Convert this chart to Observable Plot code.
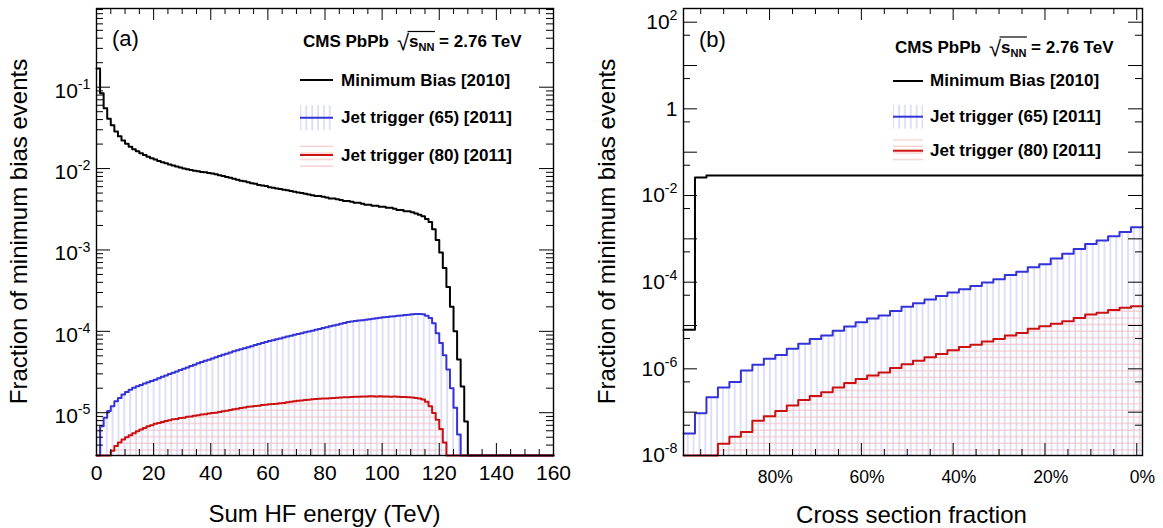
<!DOCTYPE html>
<html><head><meta charset="utf-8">
<script src="https://cdn.jsdelivr.net/npm/d3@7"></script>
<script src="https://cdn.jsdelivr.net/npm/@observablehq/plot@0.6"></script>
<style>
body{margin:0;background:#fff;}
#wrap{position:relative;width:1163px;height:528px;overflow:hidden;background:#fff;}
#wrap svg{position:absolute;top:0;}
</style></head><body>
<svg width="0" height="0" style="position:absolute;left:0;top:0">
<defs>
<pattern id="hatchBlue" patternUnits="userSpaceOnUse" width="5.87" height="8"><rect x="0.5" y="0" width="1.1" height="8" fill="#c6c6f6"/></pattern>
<pattern id="hatchRed" patternUnits="userSpaceOnUse" width="8" height="6.6"><rect x="0" y="0.6" width="8" height="1.1" fill="#f7c2c2"/></pattern>
</defs></svg>
<div id="wrap"></div>
<script>
// ---------------- data ----------------
const seriesNames = ["Minimum Bias [2010]", "Jet trigger (65) [2011]", "Jet trigger (80) [2011]"];

// Panel (a): Sum HF energy, bins of 1.25 TeV from 0 to 160 TeV (128 bins)
const hfBinWidth = 1.25;
const mbA = [
0.17,0.084,0.055,0.041,0.034,0.0285,0.025,0.0222,0.0202,0.0186,
0.0173,0.0163,0.0154,0.0147,0.014,0.0134,0.0129,0.0124,0.012,0.0116,
0.0112,0.0109,0.0106,0.0103,0.01,0.0098,0.0096,0.0094,0.0093,0.0091,
0.009,0.0088,0.0087,0.0085,0.0083,0.0081,0.0079,0.0077,0.0075,0.0073,
0.0071,0.007,0.0068,0.0066,0.0065,0.0063,0.0062,0.0061,0.0059,0.0058,
0.0057,0.0056,0.0055,0.0054,0.0053,0.0052,0.0051,0.005,0.0049,0.0048,
0.0047,0.0046,0.0046,0.0045,0.0044,0.0043,0.0043,0.0042,0.0041,0.004,
0.004,0.0039,0.0038,0.0038,0.0037,0.0036,0.0036,0.0035,0.0035,0.0034,
0.0034,0.0033,0.0033,0.0032,0.0031,0.0031,0.003,0.003,0.0029,0.0028,
0.0027,0.0026,0.0024,0.0022,0.0018,0.00133,0.00093,0.0006,0.00035,0.0002,
0.0001,0.000045,0.000021,0.0000078,0,0,0,0,0,0,
0,0,0,0,0,0,0,0,0,0,
0,0,0,0,0,0,0,0];
const j65A = [
0,6.8e-6,8.7e-6,1.05e-5,1.2e-5,1.38e-5,1.52e-5,1.68e-5,1.8e-5,1.92e-5,
2.03e-5,2.11e-5,2.19e-5,2.28e-5,2.37e-5,2.46e-5,2.55e-5,2.65e-5,2.76e-5,2.86e-5,
2.98e-5,3.09e-5,3.21e-5,3.34e-5,3.47e-5,3.6e-5,3.74e-5,3.89e-5,4.04e-5,4.2e-5,
4.34e-5,4.49e-5,4.65e-5,4.81e-5,4.97e-5,5.14e-5,5.32e-5,5.5e-5,5.69e-5,5.86e-5,
6.03e-5,6.21e-5,6.39e-5,6.58e-5,6.77e-5,6.97e-5,7.17e-5,7.38e-5,7.6e-5,7.79e-5,
7.99e-5,8.19e-5,8.39e-5,8.61e-5,8.82e-5,9.05e-5,9.27e-5,9.5e-5,9.73e-5,9.97e-5,
1.02e-4,1.045e-4,1.071e-4,1.097e-4,1.124e-4,1.152e-4,1.18e-4,1.209e-4,1.239e-4,1.269e-4,
1.3e-4,1.318e-4,1.336e-4,1.354e-4,1.373e-4,1.392e-4,1.411e-4,1.43e-4,1.45e-4,1.47e-4,
1.486e-4,1.502e-4,1.519e-4,1.535e-4,1.552e-4,1.569e-4,1.586e-4,1.603e-4,1.62e-4,1.63e-4,
1.635e-4,1.625e-4,1.55e-4,1.46e-4,1.26e-4,9.5e-5,7.2e-5,5.1e-5,3.4e-5,2.0e-5,
1.15e-5,5.4e-6,0,0,0,0,0,0,0,0,
0,0,0,0,0,0,0,0,0,0,
0,0,0,0,0,0,0,0];
const j80A = [
0,0,0,0,3.4e-6,3.9e-6,4.3e-6,4.7e-6,5.0e-6,5.3e-6,
5.6e-6,5.9e-6,6.2e-6,6.5e-6,6.8e-6,7.0e-6,7.3e-6,7.5e-6,7.7e-6,7.9e-6,
8.1e-6,8.3e-6,8.4e-6,8.6e-6,8.7e-6,8.9e-6,9.0e-6,9.2e-6,9.3e-6,9.5e-6,
9.6e-6,9.8e-6,9.9e-6,1.0e-5,1.02e-5,1.04e-5,1.06e-5,1.08e-5,1.1e-5,1.12e-5,
1.14e-5,1.16e-5,1.18e-5,1.19e-5,1.21e-5,1.22e-5,1.24e-5,1.25e-5,1.27e-5,1.28e-5,
1.29e-5,1.31e-5,1.32e-5,1.34e-5,1.36e-5,1.38e-5,1.4e-5,1.41e-5,1.43e-5,1.44e-5,
1.46e-5,1.47e-5,1.48e-5,1.49e-5,1.5e-5,1.51e-5,1.52e-5,1.53e-5,1.54e-5,1.55e-5,
1.55e-5,1.56e-5,1.57e-5,1.57e-5,1.58e-5,1.58e-5,1.59e-5,1.59e-5,1.58e-5,1.59e-5,
1.58e-5,1.58e-5,1.57e-5,1.58e-5,1.57e-5,1.56e-5,1.56e-5,1.55e-5,1.54e-5,1.52e-5,
1.5e-5,1.45e-5,1.36e-5,1.2e-5,9.9e-6,8.2e-6,6.3e-6,4.3e-6,0,0,
0,0,0,0,0,0,0,0,0,0,
0,0,0,0,0,0,0,0,0,0,
0,0,0,0,0,0,0,0];

// Panel (b): cross section fraction, 40 bins of 2.5 % from 100 % down to 0 %
const csBinWidth = 2.5;
const mbB = [
8e-6,0.026,0.029,0.029,0.029,0.029,0.029,0.029,0.029,0.029,
0.029,0.029,0.029,0.029,0.029,0.029,0.029,0.029,0.029,0.029,
0.029,0.029,0.029,0.029,0.029,0.029,0.029,0.029,0.029,0.029,
0.029,0.029,0.029,0.029,0.029,0.029,0.029,0.029,0.029,0.029];
const j65B = [
3.2e-8,9.5e-8,2.2e-7,3.7e-7,5.0e-7,9.1e-7,1.24e-6,1.7e-6,2.1e-6,2.9e-6,
3.8e-6,4.9e-6,5.9e-6,7.6e-6,9.5e-6,1.19e-5,1.45e-5,1.71e-5,2.15e-5,2.7e-5,
3.25e-5,4.0e-5,4.8e-5,5.75e-5,6.9e-5,8.2e-5,9.8e-5,1.17e-4,1.46e-4,1.74e-4,
2.2e-4,2.6e-4,3.5e-4,4.5e-4,5.85e-4,7.65e-4,9.1e-4,1.15e-3,1.43e-3,1.86e-3];
const j80B = [
0,0,0,1.87e-8,2.7e-8,3.5e-8,6.3e-8,8.1e-8,1.07e-7,1.43e-7,
1.9e-7,2.35e-7,2.9e-7,3.7e-7,4.7e-7,5.8e-7,7.0e-7,8.2e-7,1.04e-6,1.28e-6,
1.54e-6,1.84e-6,2.2e-6,2.67e-6,3.2e-6,3.6e-6,4.3e-6,4.9e-6,5.85e-6,6.75e-6,
8.4e-6,9.6e-6,1.1e-5,1.26e-5,1.5e-5,1.8e-5,1.97e-5,2.27e-5,2.57e-5,2.8e-5];

// tick labels
const xTicksA = [0,20,40,60,80,100,120,140,160];
const yTicksA = [1e-5,1e-4,1e-3,1e-2,1e-1];
const yLabelsA = ["10^-5","10^-4","10^-3","10^-2","10^-1"];
const xTicksB = [80,60,40,20,0];
const xTickMarksB = [81.25,61.25,41.25,21.25,1.25];
const xMinorMarksB = [96.25,91.25,86.25,76.25,71.25,66.25,56.25,51.25,46.25,36.25,31.25,26.25,16.25,11.25,6.25];
const yTicksB = [1e2,1,1e-2,1e-4,1e-6,1e-8];
const yLabelsB = ["10^2","1","10^-2","10^-4","10^-6","10^-8"];

// ---------------- helpers ----------------
const FONT = '"Liberation Sans", Arial, Helvetica, sans-serif';
const BLUE = "#3333d8", RED = "#cc1111";
const PH = 447;
const yDomA = [2.98e-6, 0.927], yDomB = [1e-8, 207];

function stepRows(vals, x0, w, ymin) {
  const rows = vals.map((v, k) => ({x: x0 + k * w, y: v > 0 ? v : ymin}));
  rows.push({x: x0 + vals.length * w, y: rows[rows.length - 1].y});
  return rows;
}
function tickMarks(xMaj, xMin, yMaj, yMin, PW) {
  const s = {stroke: "#000", strokeWidth: 1};
  return [
    Plot.tickX(xMin, {x: d => d, insetTop: PH - 6, ...s}),
    Plot.tickX(xMin, {x: d => d, insetBottom: PH - 6, ...s}),
    Plot.tickX(xMaj, {x: d => d, insetTop: PH - 12, ...s}),
    Plot.tickX(xMaj, {x: d => d, insetBottom: PH - 12, ...s}),
    Plot.tickY(yMin, {y: d => d, insetRight: PW - 7, ...s}),
    Plot.tickY(yMin, {y: d => d, insetLeft: PW - 7, ...s}),
    Plot.tickY(yMaj, {y: d => d, insetRight: PW - 14, ...s}),
    Plot.tickY(yMaj, {y: d => d, insetLeft: PW - 14, ...s})
  ];
}
function histMarks(rMB, r65, r80, ymin) {
  const o = {x: "x", curve: "step-after"};
  return [
    Plot.areaY(r65, {...o, y1: ymin, y2: "y", fill: "url(#hatchBlue)"}),
    Plot.areaY(r80, {...o, y1: ymin, y2: "y", fill: "url(#hatchRed)"}),
    Plot.line(rMB, {...o, y: "y", stroke: "#000", strokeWidth: 2}),
    Plot.line(r65, {...o, y: "y", stroke: BLUE, strokeWidth: 2}),
    Plot.line(r80, {...o, y: "y", stroke: RED, strokeWidth: 2})
  ];
}
function supLabels(svg, yAttr) {
  const ns = "http://www.w3.org/2000/svg";
  svg.querySelectorAll('g[aria-label="y-axis tick label"] text').forEach(t => {
    const s = t.textContent;
    if (yAttr) t.setAttribute("y", yAttr);
    const i = s.indexOf("^");
    if (i < 0) return;
    t.textContent = "";
    const a = document.createElementNS(ns, "tspan"); a.textContent = s.slice(0, i);
    const b = document.createElementNS(ns, "tspan"); b.textContent = s.slice(i + 1);
    b.setAttribute("dy", "-0.62em"); b.setAttribute("font-size", "0.68em");
    t.append(a, b);
  });
}
function cmsTitle(g, x, y) {
  const t = g.append("text").attr("x", x).attr("y", y).attr("font-size", 17).attr("font-weight", "bold").style("white-space", "pre");
  t.append("tspan").text("CMS PbPb");
  t.append("tspan").attr("dx", 8).attr("dy", 3).attr("font-weight", "normal").attr("font-size", 22).text("\u221A");
  t.append("tspan").attr("dy", -3).text("s");
  t.append("tspan").attr("font-size", 11).attr("dy", 4).text("NN");
  t.append("tspan").attr("dy", -4).text(" = 2.76 TeV");
  const n = t.node();
  const e0 = n.getExtentOfChar(8), e1 = n.getExtentOfChar(11);
  g.append("line").attr("x1", e0.x + e0.width - 1.5).attr("x2", e1.x + e1.width + 0.5)
    .attr("y1", y - 15.5).attr("y2", y - 15.5).attr("stroke", "#000").attr("stroke-width", 1.2);
}
function legend(svg, L) {
  const g = d3.select(svg).append("g").attr("font-family", FONT).attr("fill", "#000").attr("text-anchor", "start");
  cmsTitle(g, L.tx, L.ty);
  const st = [{stroke: "#000"}, {stroke: BLUE, fill: "url(#hatchBlue)"}, {stroke: RED, fill: "url(#hatchRed)"}];
  seriesNames.forEach((name, i) => {
    const ly = L.ly[i];
    if (st[i].fill) g.append("rect").attr("x", L.x0).attr("width", L.x1 - L.x0).attr("y", ly - L.h).attr("height", 2 * L.h).attr("fill", st[i].fill);
    g.append("line").attr("x1", L.x0).attr("x2", L.x1).attr("y1", ly).attr("y2", ly).attr("stroke", st[i].stroke).attr("stroke-width", 2);
    g.append("text").attr("x", L.lx).attr("y", L.by[i]).attr("font-size", 17).attr("font-weight", "bold").text(name);
  });
}
function titles(svg, o) {
  const g = d3.select(svg).append("g").attr("font-family", FONT).attr("fill", "#000");
  g.append("text").attr("transform", `translate(${o.yx},${o.yy}) rotate(-90)`).attr("text-anchor", "middle").attr("font-size", 24).text("Fraction of minimum bias events");
  g.append("text").attr("x", o.xx).attr("y", o.xy).attr("text-anchor", "middle").attr("font-size", 24).text(o.xlabel);
  g.append("text").attr("x", o.px).attr("y", o.py).attr("text-anchor", "start").attr("font-size", 22).text(o.panel);
}

const wrap = document.getElementById("wrap");

// ---------------- panel (a) ----------------
{
  const W = 581, PW = 457;
  const ymin = yDomA[0];
  const rMB = stepRows(mbA, 0, hfBinWidth, ymin);
  const r65 = stepRows(j65A, 0, hfBinWidth, ymin);
  const r80 = stepRows(j80A, 0, hfBinWidth, ymin);
  const xMinor = d3.range(5, 160, 5).filter(v => v % 20 !== 0);
  const yMinor = [];
  for (let d = -6; d <= -1; d++) for (let m = 2; m <= 9; m++) { const v = m * Math.pow(10, d); if (v > yDomA[0] * 1.01 && v < yDomA[1]) yMinor.push(v); }
  const svg = Plot.plot({
    width: W, height: 528, marginLeft: 96, marginRight: 28, marginTop: 8, marginBottom: 73,
    style: {fontFamily: FONT, fontSize: "21px", color: "#000", background: "transparent", overflow: "visible"},
    x: {domain: [0, 160]},
    y: {type: "log", domain: yDomA},
    marks: [
      ...histMarks(rMB, r65, r80, ymin),
      ...tickMarks(xTicksA, xMinor, yTicksA, yMinor, PW),
      Plot.frame({stroke: "#000", strokeWidth: 1.4}),
      Plot.axisX(xTicksA, {anchor: "bottom", tickSize: 0, tickPadding: 10, fontSize: 21, label: null, tickFormat: d => String(d)}),
      Plot.axisY(yTicksA, {anchor: "left", tickSize: 0, tickPadding: 6, fontSize: 21, label: null, tickFormat: d => yLabelsA[yTicksA.indexOf(d)]})
    ]
  });
  svg.style.left = "0px";
  wrap.appendChild(svg);
  supLabels(svg, "0.5em");
  titles(svg, {yx: 27, yy: 231.5, xx: 324.5, xy: 522, xlabel: "Sum HF energy (TeV)", px: 112, py: 45.5, panel: "(a)"});
  legend(svg, {tx: 303, ty: 47, x0: 300, x1: 333, h: 12.5, lx: 341, ly: [80, 117.7, 155], by: [85.5, 122.5, 160.5]});
}

// ---------------- panel (b) ----------------
{
  const W = 582, PW = 459, L0 = 581;
  const ymin = yDomB[0];
  const rMB = stepRows(mbB, 100, -csBinWidth, ymin);
  const r65 = stepRows(j65B, 100, -csBinWidth, ymin);
  const r80 = stepRows(j80B, 100, -csBinWidth, ymin);
  const yMaj = [], yMinor = [];
  for (let d = -8; d <= 2; d++) { yMaj.push(Math.pow(10, d)); if (d < 2) yMinor.push(5 * Math.pow(10, d)); }
  const svg = Plot.plot({
    width: W, height: 528, marginLeft: 102, marginRight: 21, marginTop: 8, marginBottom: 73,
    style: {fontFamily: FONT, fontSize: "21px", color: "#000", background: "transparent", overflow: "visible"},
    x: {domain: [100, 0]},
    y: {type: "log", domain: yDomB},
    marks: [
      ...histMarks(rMB, r65, r80, ymin),
      ...tickMarks(xTickMarksB, xMinorMarksB, yMaj, yMinor, PW),
      Plot.frame({stroke: "#000", strokeWidth: 1.4}),
      Plot.axisX(xTicksB, {anchor: "bottom", tickSize: 0, tickPadding: 15.5, fontSize: 17.5, label: null, tickFormat: d => d + "%"}),
      Plot.axisY(yTicksB, {anchor: "left", tickSize: 0, tickPadding: 6, fontSize: 21, label: null, tickFormat: d => yLabelsB[yTicksB.indexOf(d)]})
    ]
  });
  svg.style.left = L0 + "px";
  wrap.appendChild(svg);
  supLabels(svg, null);
  titles(svg, {yx: 34, yy: 231.5, xx: 330.5, xy: 523, xlabel: "Cross section fraction", px: 118, py: 46.5, panel: "(b)"});
  legend(svg, {tx: 314, ty: 52.5, x0: 312, x1: 342, h: 12, lx: 349, ly: [81, 116.7, 150.7], by: [86, 122, 156]});
}
</script>
</body></html>
